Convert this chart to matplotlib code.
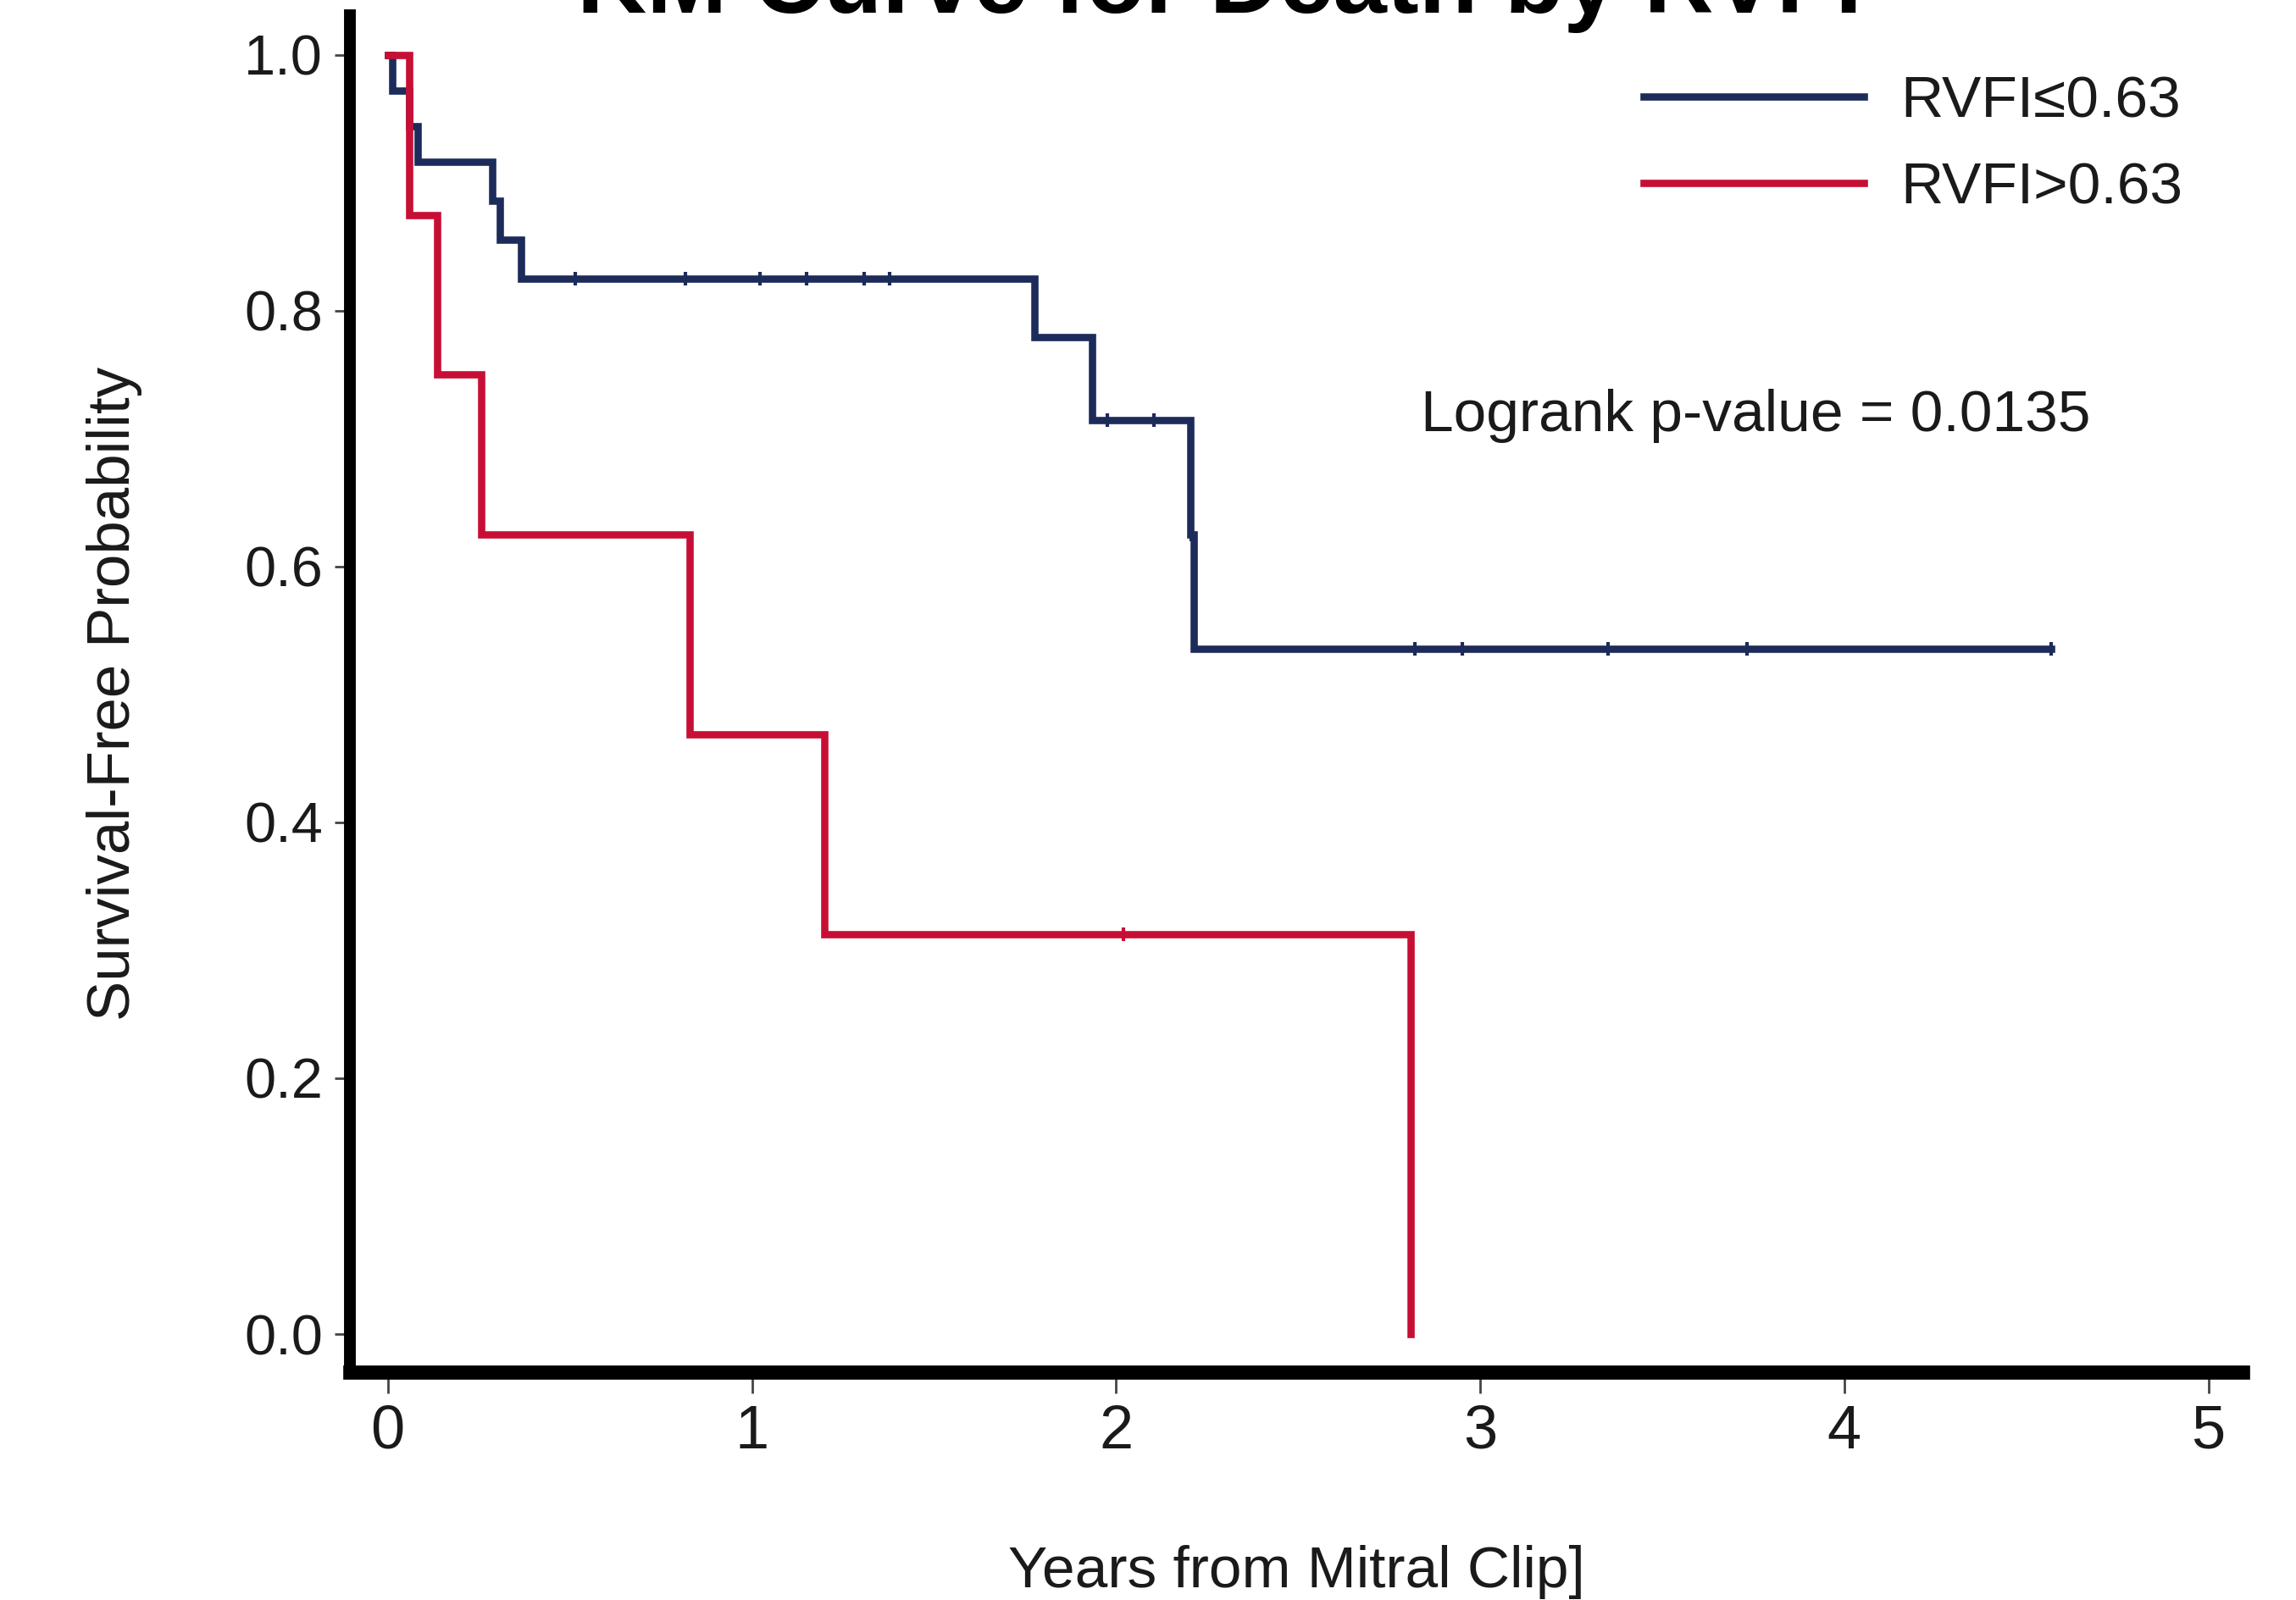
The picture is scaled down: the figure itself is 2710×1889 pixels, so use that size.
import numpy as np
import matplotlib
matplotlib.use("Agg")
import matplotlib.pyplot as plt
from matplotlib.lines import Line2D

plt.rcParams['font.family'] = ['Liberation Sans', 'DejaVu Sans']

# KM steps, RVFI<=0.63 group
low_times = [0.0, 0.013, 0.06, 0.083, 0.288, 0.307, 0.365, 1.775, 1.935, 2.205, 2.214, 4.567]
low_surv = [1.0, 0.9722, 0.9444, 0.9167, 0.8861, 0.8556, 0.8250, 0.7792, 0.7143, 0.6250, 0.5357, 0.5357]
low_cens_t = [0.516, 0.818, 1.021, 1.15, 1.309, 1.379, 1.977, 2.105, 2.207, 2.821, 2.951, 3.351, 3.733, 4.567]
low_cens_s = [0.8250, 0.8250, 0.8250, 0.8250, 0.8250, 0.8250, 0.7143, 0.7143, 0.6250, 0.5357, 0.5357, 0.5357, 0.5357, 0.5357]

# KM steps, RVFI>0.63 group
high_times = [0.0, 0.06, 0.135, 0.257, 0.83, 1.2, 2.81]
high_surv = [1.0, 0.875, 0.75, 0.625, 0.469, 0.3125, 0.0]
high_cens_t = [2.02]
high_cens_s = [0.3125]

labels = ['RVFI\u22640.63', 'RVFI>0.63']
x_ticks = [0, 1, 2, 3, 4, 5]
y_ticks = [0.0, 0.2, 0.4, 0.6, 0.8, 1.0]

blue = '#1c2b5a'
red = '#c70f35'
txt = '#1a1a1a'
lw = 6.2

fig = plt.figure(figsize=(27.1, 18.89), dpi=100)
ax = fig.add_axes([0.1524, 0.1424, 0.8244, 0.8481])

ax.step(low_times, low_surv, where='post', color=blue, lw=lw, solid_joinstyle='miter')
ax.step(high_times, high_surv, where='post', color=red, lw=lw, solid_joinstyle='miter')
ax.plot(low_cens_t, low_cens_s, ls='none', marker='|', ms=12, mew=3, color=blue)
ax.plot(high_cens_t, high_cens_s, ls='none', marker='|', ms=12, mew=3, color=red)

ax.set_xlim(-0.104, 5.094)
ax.set_ylim(-0.0298, 1.031)
ax.set_xticks(x_ticks)
ax.set_xticklabels([str(v) for v in x_ticks])
ax.set_yticks(y_ticks)
ax.set_yticklabels(['%.1f' % v for v in y_ticks])

for s in ['top', 'right']:
    ax.spines[s].set_visible(False)
ax.spines['left'].set_linewidth(10)
ax.spines['bottom'].set_linewidth(12)
ax.tick_params(axis='y', length=13, width=2, pad=10, labelsize=48, colors='#444444', labelcolor=txt)
ax.tick_params(axis='x', length=18, width=2, pad=9, labelsize=52, colors='#444444', labelcolor=txt)

ax.set_xlabel('Years from Mitral Clip]', fontsize=50, color=txt)
ax.xaxis.set_label_coords(0.5, -0.1275)
ax.set_ylabel('Survival-Free Probability', fontsize=51, color=txt)
ax.yaxis.set_label_coords(-0.1095, 0.5)

ax.text(2.837, 0.7056, 'Logrank p-value = 0.0135', fontsize=50, color=txt, va='baseline', ha='left')

handles = [Line2D([], [], color=blue, lw=lw), Line2D([], [], color=red, lw=lw)]
ax.legend(handles, labels, loc='upper left', bbox_to_anchor=(0.6835, 0.956), frameon=False,
          fontsize=50, handlelength=3.75, handletextpad=0.62, labelspacing=0.55,
          borderpad=0, borderaxespad=0, labelcolor=txt)

fig.text(0.531, 1 - 15 / 1889, 'KM Curve for Death by RVFI', fontsize=82, fontweight='bold',
         ha='center', va='baseline', color='black')

fig.savefig('out.png', dpi=100, facecolor='white')
